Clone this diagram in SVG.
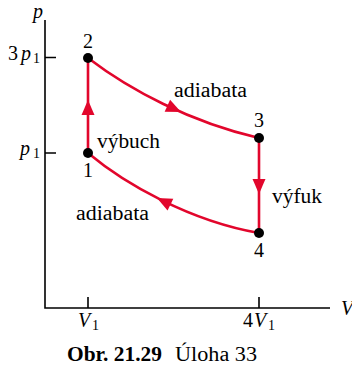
<svg xmlns="http://www.w3.org/2000/svg" width="352" height="371" viewBox="0 0 352 371" font-family="'Liberation Serif', 'DejaVu Serif', serif">
<style>
text{font-family:'Liberation Serif','DejaVu Serif',serif;font-size:20px;fill:#000}
.it{font-style:italic}
.sub{font-size:14px}
.mid{text-anchor:middle}
.ax{stroke:#000;stroke-width:1.6;fill:none}
.edge{stroke:#E2062C;stroke-width:2.6;fill:none}
.ah{fill:#E2062C}
.dot{fill:#000}
.cap{font-weight:bold}
</style>
<defs>
<polygon id="arr" points="0,0 -15,-6.5 -15,6.5"/>
</defs>
<g id="axes">
<path class="ax" d="M45,20 V308 H330"/>
<path class="ax" d="M45,57.5 H56 M45,153 H56 M88,297 V308 M259,297 V308"/>
<text class="it" x="33" y="18">p</text>
<text x="8" y="60">3</text><text class="it" x="21" y="60">p</text><text class="sub" x="33" y="63">1</text>
<text class="it" x="20" y="155">p</text><text class="sub" x="33" y="158">1</text>
<text class="it" x="341" y="315">V</text>
<text class="it" x="78" y="327">V</text><text class="sub" x="92" y="330">1</text>
<text x="243" y="327">4</text><text class="it" x="254" y="327">V</text><text class="sub" x="268" y="330">1</text>
</g>
<g id="connectors">
<path class="edge" d="M88,153 V58"/>
<use href="#arr" class="ah" transform="translate(88,100) rotate(-90)"/>
<path class="edge" d="M88,58 C130,90 190,122 259,138"/>
<use href="#arr" class="ah" transform="translate(181,112) rotate(24.7)"/>
<path class="edge" d="M259,138 V233"/>
<use href="#arr" class="ah" transform="translate(259,194) rotate(90)"/>
<path class="edge" d="M259,233 C190,221 125,184 88,153"/>
<use href="#arr" class="ah" transform="translate(157,198) rotate(206.4)"/>
<text x="174" y="97" textLength="73" lengthAdjust="spacingAndGlyphs">adiabata</text>
<text x="97" y="148" textLength="63" lengthAdjust="spacingAndGlyphs">výbuch</text>
<text x="272" y="203" textLength="50" lengthAdjust="spacingAndGlyphs">výfuk</text>
<text x="76" y="220" textLength="73" lengthAdjust="spacingAndGlyphs">adiabata</text>
</g>
<g id="n1"><circle class="dot" cx="88" cy="153" r="5"/><text class="mid" x="88" y="177">1</text></g>
<g id="n2"><circle class="dot" cx="88" cy="58" r="5"/><text class="mid" x="88" y="48">2</text></g>
<g id="n3"><circle class="dot" cx="259" cy="138" r="5"/><text class="mid" x="259" y="127">3</text></g>
<g id="n4"><circle class="dot" cx="259" cy="233" r="5"/><text class="mid" x="259" y="257">4</text></g>
<g id="caption">
<text class="cap" x="67" y="361" textLength="95" lengthAdjust="spacingAndGlyphs">Obr. 21.29</text>
<text x="175" y="361" textLength="82" lengthAdjust="spacingAndGlyphs">Úloha 33</text>
</g>
</svg>
